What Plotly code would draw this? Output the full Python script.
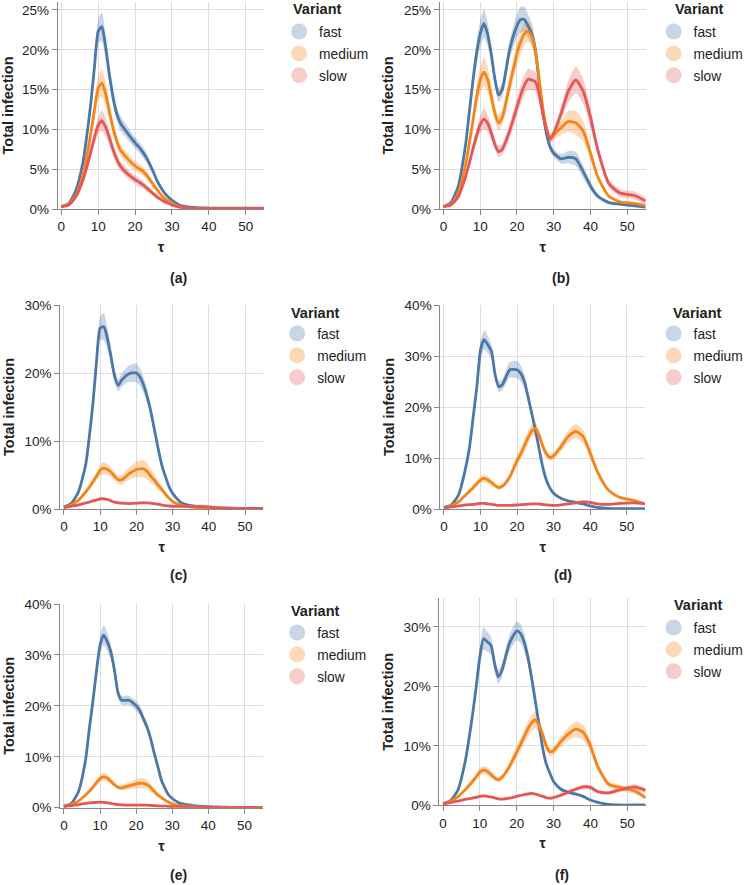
import plotly.graph_objects as go

# tau sample points shared by every series
tau = [0, 2, 4, 6, 7, 8, 9, 10, 11, 12, 13, 14, 15, 16, 18, 20, 21, 22, 23, 24, 25,
       26, 27, 28, 29, 30, 32, 34, 36, 38, 40, 42, 45, 48, 52, 55]

variants = ["fast", "medium", "slow"]
captions = ["(a)", "(b)", "(c)", "(d)", "(e)", "(f)"]
y_max = [26, 26, 30, 40, 40, 34.8]
y_step = [5, 5, 10, 10, 10, 10]
x_ticks = [0, 10, 20, 30, 40, 50]

# total infection in %, mean and half width of the band
a_fast = [0.3, 0.7, 2.4, 6.2, 9.5, 13.3, 17.9, 22.3, 22.9, 20.4, 17.0, 14.1, 12.0, 10.8, 9.5, 8.3, 7.8, 7.2, 6.5, 5.6, 4.6, 3.5, 2.7, 2.0, 1.5, 1.1, 0.5, 0.3, 0.2, 0.15, 0.12, 0.1, 0.1, 0.1, 0.1, 0.1]
a_fast_err = [0.1, 0.1, 0.2, 0.4, 0.6, 0.8, 1.1, 1.5, 1.8, 1.6, 1.3, 1.1, 0.9, 0.9, 0.8, 0.7, 0.7, 0.7, 0.6, 0.5, 0.4, 0.3, 0.3, 0.2, 0.2, 0.1, 0.1, 0.05, 0.05, 0.05, 0.05, 0.05, 0.05, 0.05, 0.05, 0.05]
a_medium = [0.3, 0.6, 1.8, 4.5, 6.8, 9.5, 12.5, 15.2, 15.8, 14.5, 12.3, 10.2, 8.6, 7.4, 6.3, 5.4, 5.1, 4.8, 4.3, 3.7, 3.0, 2.4, 1.8, 1.3, 1.0, 0.7, 0.3, 0.15, 0.1, 0.08, 0.05, 0.05, 0.05, 0.05, 0.05, 0.05]
a_medium_err = [0.1, 0.1, 0.2, 0.4, 0.6, 0.8, 1.1, 1.4, 1.7, 1.5, 1.1, 0.9, 0.8, 0.7, 0.7, 0.6, 0.6, 0.6, 0.5, 0.5, 0.4, 0.3, 0.3, 0.2, 0.2, 0.1, 0.1, 0.05, 0.05, 0.05, 0.05, 0.05, 0.05, 0.05, 0.05, 0.05]
a_slow = [0.3, 0.5, 1.6, 3.8, 5.4, 7.2, 9.0, 10.5, 11.1, 10.3, 9.0, 7.5, 6.3, 5.4, 4.4, 3.7, 3.4, 3.1, 2.7, 2.3, 1.9, 1.5, 1.2, 0.9, 0.7, 0.5, 0.25, 0.12, 0.08, 0.05, 0.05, 0.03, 0.03, 0.03, 0.03, 0.03]
a_slow_err = [0.1, 0.1, 0.2, 0.4, 0.5, 0.7, 0.9, 1.1, 1.3, 1.2, 1.0, 0.8, 0.7, 0.6, 0.6, 0.5, 0.5, 0.5, 0.4, 0.4, 0.3, 0.3, 0.2, 0.2, 0.1, 0.1, 0.05, 0.05, 0.05, 0.05, 0.05, 0.05, 0.05, 0.05, 0.05, 0.05]

b_fast = [0.3, 0.8, 2.8, 8.0, 12.0, 16.0, 19.5, 22.0, 23.3, 22.0, 19.5, 16.3, 14.3, 15.0, 20.0, 23.0, 23.8, 23.8, 23.0, 22.0, 20.0, 16.0, 12.4, 9.5, 7.8, 7.0, 6.3, 6.5, 6.3, 4.7, 2.9, 1.6, 0.8, 0.6, 0.4, 0.25]
b_fast_err = [0.1, 0.1, 0.3, 0.6, 0.9, 1.2, 1.5, 1.7, 1.8, 1.5, 1.1, 0.9, 0.9, 0.9, 1.2, 1.5, 1.6, 1.6, 1.5, 1.4, 1.2, 1.0, 0.8, 0.6, 0.5, 0.5, 0.6, 0.8, 0.9, 0.8, 0.5, 0.3, 0.2, 0.1, 0.1, 0.1]
b_medium = [0.3, 0.6, 2.0, 5.5, 8.2, 11.0, 14.0, 16.2, 17.2, 16.3, 14.2, 12.0, 10.8, 11.5, 15.5, 19.5, 21.0, 22.0, 22.3, 21.7, 20.0, 16.5, 12.8, 10.2, 8.8, 9.3, 10.2, 11.0, 10.8, 9.8, 7.0, 4.0, 1.6, 0.9, 0.7, 0.4]
b_medium_err = [0.1, 0.1, 0.3, 0.6, 0.8, 1.1, 1.4, 1.6, 1.8, 1.6, 1.2, 1.0, 0.9, 1.0, 1.2, 1.4, 1.4, 1.4, 1.3, 1.2, 1.1, 1.0, 0.8, 0.6, 0.5, 0.6, 0.9, 1.3, 1.5, 1.3, 0.8, 0.4, 0.2, 0.1, 0.1, 0.1]
b_slow = [0.3, 0.5, 1.5, 4.0, 5.7, 7.5, 9.2, 10.6, 11.3, 10.8, 9.6, 8.1, 7.2, 7.5, 9.8, 12.8, 14.3, 15.5, 16.3, 16.2, 16.0, 14.5, 12.0, 10.0, 8.8, 9.5, 12.0, 14.8, 16.2, 14.8, 11.5, 7.4, 3.2, 2.0, 1.7, 1.0]
b_slow_err = [0.1, 0.1, 0.2, 0.4, 0.5, 0.7, 0.9, 1.1, 1.3, 1.1, 0.9, 0.7, 0.7, 0.7, 0.9, 1.1, 1.2, 1.3, 1.3, 1.3, 1.2, 1.0, 0.8, 0.6, 0.5, 0.6, 0.9, 1.4, 1.7, 1.6, 1.2, 0.8, 0.5, 0.5, 0.5, 0.5]

c_fast = [0.3, 0.8, 2.5, 6.5, 10.6, 15.5, 21.7, 26.6, 26.8, 25.1, 22.4, 19.5, 18.2, 19.0, 19.9, 20.0, 19.4, 18.2, 16.5, 14.3, 11.6, 8.9, 6.5, 4.8, 3.3, 2.3, 1.1, 0.6, 0.4, 0.3, 0.2, 0.15, 0.1, 0.1, 0.1, 0.1]
c_fast_err = [0.1, 0.1, 0.2, 0.4, 0.6, 0.9, 1.3, 1.8, 2.0, 1.6, 1.2, 1.0, 0.9, 1.0, 1.2, 1.4, 1.3, 1.2, 1.0, 0.9, 0.7, 0.6, 0.4, 0.3, 0.2, 0.2, 0.1, 0.1, 0.05, 0.05, 0.05, 0.05, 0.05, 0.05, 0.05, 0.05]
c_medium = [0.2, 0.6, 1.3, 2.5, 3.2, 4.0, 4.8, 5.7, 6.0, 5.8, 5.4, 4.8, 4.3, 4.3, 5.2, 5.8, 5.9, 5.9, 5.5, 4.8, 4.2, 3.5, 2.9, 2.2, 1.6, 1.1, 0.6, 0.35, 0.25, 0.2, 0.15, 0.1, 0.1, 0.05, 0.05, 0.05]
c_medium_err = [0.05, 0.1, 0.2, 0.3, 0.4, 0.5, 0.6, 0.8, 0.9, 0.8, 0.7, 0.6, 0.6, 0.7, 0.9, 1.1, 1.2, 1.3, 1.2, 1.0, 0.8, 0.7, 0.5, 0.4, 0.3, 0.2, 0.1, 0.1, 0.1, 0.1, 0.05, 0.05, 0.05, 0.05, 0.05, 0.05]
c_slow = [0.2, 0.4, 0.6, 0.9, 1.0, 1.2, 1.3, 1.5, 1.5, 1.4, 1.2, 1.0, 0.9, 0.85, 0.8, 0.85, 0.9, 0.9, 0.9, 0.85, 0.8, 0.7, 0.6, 0.5, 0.45, 0.4, 0.4, 0.4, 0.4, 0.35, 0.3, 0.2, 0.15, 0.1, 0.1, 0.1]
c_slow_err = [0.05, 0.1, 0.1, 0.15, 0.15, 0.15, 0.15, 0.2, 0.2, 0.2, 0.15, 0.15, 0.15, 0.15, 0.15, 0.15, 0.15, 0.15, 0.15, 0.15, 0.15, 0.15, 0.1, 0.1, 0.1, 0.1, 0.15, 0.25, 0.3, 0.3, 0.25, 0.15, 0.1, 0.05, 0.05, 0.05]

d_fast = [0.3, 0.8, 2.8, 8.3, 12.2, 18.1, 24.0, 31.2, 33.2, 32.2, 30.9, 26.3, 24.0, 24.4, 27.3, 27.3, 26.6, 25.0, 22.0, 18.8, 15.5, 11.9, 8.3, 5.7, 4.1, 3.1, 2.1, 1.6, 1.3, 1.0, 0.6, 0.3, 0.1, 0.05, 0.05, 0.05]
d_fast_err = [0.1, 0.1, 0.3, 0.6, 0.8, 1.0, 1.3, 1.7, 1.9, 1.7, 1.4, 1.2, 1.1, 1.1, 1.5, 1.7, 1.6, 1.4, 1.2, 1.0, 0.8, 0.6, 0.4, 0.3, 0.2, 0.2, 0.1, 0.1, 0.1, 0.1, 0.05, 0.05, 0.05, 0.05, 0.05, 0.05]
d_medium = [0.2, 0.7, 1.4, 2.8, 3.5, 4.2, 5.0, 5.7, 6.0, 5.7, 5.2, 4.6, 4.2, 4.5, 6.3, 9.5, 10.8, 12.4, 14.0, 15.3, 15.8, 14.5, 12.4, 10.8, 10.1, 10.4, 12.2, 14.2, 15.2, 14.3, 11.0, 7.3, 3.7, 2.3, 1.7, 1.0]
d_medium_err = [0.05, 0.1, 0.2, 0.3, 0.4, 0.5, 0.6, 0.7, 0.8, 0.7, 0.6, 0.5, 0.5, 0.5, 0.7, 1.0, 1.1, 1.2, 1.3, 1.3, 1.3, 1.1, 0.9, 0.7, 0.6, 0.7, 0.9, 1.2, 1.4, 1.3, 1.0, 0.6, 0.4, 0.3, 0.2, 0.2]
d_slow = [0.2, 0.4, 0.6, 0.8, 0.85, 0.9, 1.0, 1.1, 1.1, 1.0, 0.9, 0.8, 0.7, 0.7, 0.7, 0.8, 0.85, 0.9, 0.95, 1.0, 1.0, 1.0, 0.9, 0.8, 0.75, 0.7, 0.8, 1.0, 1.2, 1.4, 1.3, 1.0, 0.9, 1.1, 1.2, 1.0]
d_slow_err = [0.05, 0.1, 0.1, 0.15, 0.15, 0.15, 0.15, 0.15, 0.15, 0.15, 0.15, 0.1, 0.1, 0.1, 0.1, 0.1, 0.1, 0.15, 0.15, 0.15, 0.15, 0.15, 0.1, 0.1, 0.1, 0.1, 0.15, 0.2, 0.25, 0.3, 0.25, 0.2, 0.15, 0.15, 0.2, 0.2]

e_fast = [0.3, 0.8, 3.1, 9.4, 15.3, 20.8, 26.7, 31.9, 33.9, 32.6, 30.6, 27.0, 22.5, 21.1, 21.1, 20.0, 19.1, 17.5, 15.9, 13.6, 10.7, 8.1, 5.4, 3.8, 2.5, 1.8, 0.9, 0.6, 0.4, 0.3, 0.2, 0.15, 0.1, 0.05, 0.05, 0.05]
e_fast_err = [0.1, 0.1, 0.3, 0.7, 1.0, 1.2, 1.5, 1.8, 2.0, 1.8, 1.4, 1.2, 1.0, 0.9, 0.9, 1.0, 1.0, 0.9, 0.8, 0.7, 0.6, 0.5, 0.4, 0.3, 0.2, 0.1, 0.1, 0.05, 0.05, 0.05, 0.05, 0.05, 0.05, 0.05, 0.05, 0.05]
e_medium = [0.2, 0.6, 1.3, 2.5, 3.2, 4.0, 4.9, 5.7, 6.1, 5.8, 5.2, 4.5, 4.0, 3.9, 4.3, 4.7, 4.8, 4.8, 4.5, 4.0, 3.2, 2.5, 2.0, 1.5, 1.1, 0.75, 0.4, 0.25, 0.2, 0.15, 0.1, 0.05, 0.05, 0.03, 0.03, 0.03]
e_medium_err = [0.05, 0.1, 0.2, 0.3, 0.4, 0.5, 0.6, 0.7, 0.8, 0.7, 0.6, 0.5, 0.4, 0.5, 0.7, 0.9, 1.0, 1.0, 0.9, 0.8, 0.6, 0.5, 0.4, 0.3, 0.2, 0.15, 0.1, 0.05, 0.05, 0.05, 0.05, 0.05, 0.05, 0.05, 0.05, 0.05]
e_slow = [0.2, 0.4, 0.6, 0.85, 0.95, 1.0, 1.05, 1.1, 1.05, 0.95, 0.85, 0.7, 0.6, 0.55, 0.5, 0.5, 0.5, 0.5, 0.5, 0.45, 0.4, 0.35, 0.3, 0.3, 0.25, 0.2, 0.15, 0.1, 0.08, 0.05, 0.05, 0.03, 0.03, 0.03, 0.03, 0.03]
e_slow_err = [0.05, 0.05, 0.1, 0.1, 0.1, 0.15, 0.15, 0.15, 0.15, 0.15, 0.1, 0.1, 0.1, 0.1, 0.1, 0.1, 0.1, 0.1, 0.1, 0.1, 0.1, 0.1, 0.05, 0.05, 0.05, 0.05, 0.05, 0.05, 0.05, 0.05, 0.05, 0.05, 0.05, 0.05, 0.05, 0.05]

f_fast = [0.3, 0.8, 2.5, 7.3, 11.0, 15.2, 19.9, 25.0, 28.0, 27.5, 26.9, 23.8, 21.6, 22.7, 27.2, 29.3, 28.9, 27.5, 25.0, 21.6, 17.7, 13.8, 9.8, 7.0, 5.4, 4.0, 2.7, 2.2, 1.9, 1.5, 0.9, 0.5, 0.15, 0.05, 0.05, 0.05]
f_fast_err = [0.1, 0.1, 0.3, 0.6, 0.8, 1.0, 1.3, 1.6, 1.9, 1.7, 1.5, 1.3, 1.2, 1.2, 1.4, 1.6, 1.6, 1.5, 1.3, 1.1, 0.9, 0.7, 0.5, 0.4, 0.3, 0.3, 0.3, 0.3, 0.3, 0.2, 0.1, 0.1, 0.05, 0.05, 0.05, 0.05]
f_medium = [0.2, 0.7, 1.4, 2.6, 3.3, 4.0, 4.8, 5.6, 5.9, 5.7, 5.2, 4.6, 4.3, 4.7, 6.5, 9.0, 10.2, 11.5, 12.8, 13.8, 14.4, 13.5, 12.0, 10.0, 9.0, 9.2, 10.7, 12.0, 12.8, 12.3, 10.0, 6.5, 3.5, 3.0, 2.4, 1.3]
f_medium_err = [0.05, 0.1, 0.2, 0.3, 0.4, 0.5, 0.6, 0.7, 0.7, 0.7, 0.6, 0.5, 0.5, 0.5, 0.7, 1.0, 1.1, 1.2, 1.3, 1.4, 1.4, 1.3, 1.1, 0.8, 0.7, 0.7, 0.9, 1.1, 1.3, 1.3, 1.0, 0.7, 0.5, 0.5, 0.5, 0.4]
f_slow = [0.2, 0.45, 0.7, 1.0, 1.1, 1.2, 1.35, 1.5, 1.6, 1.5, 1.4, 1.25, 1.1, 1.05, 1.2, 1.5, 1.65, 1.8, 1.9, 2.0, 1.9, 1.7, 1.5, 1.3, 1.2, 1.3, 1.7, 2.2, 2.7, 3.1, 3.0, 2.3, 2.1, 2.6, 3.1, 2.5]
f_slow_err = [0.05, 0.1, 0.1, 0.15, 0.15, 0.2, 0.2, 0.2, 0.2, 0.2, 0.2, 0.15, 0.15, 0.15, 0.15, 0.2, 0.2, 0.2, 0.25, 0.25, 0.25, 0.2, 0.2, 0.15, 0.15, 0.2, 0.25, 0.3, 0.35, 0.4, 0.4, 0.3, 0.3, 0.4, 0.45, 0.45]

panels = [
    [(a_fast, a_fast_err), (a_medium, a_medium_err), (a_slow, a_slow_err)],
    [(b_fast, b_fast_err), (b_medium, b_medium_err), (b_slow, b_slow_err)],
    [(c_fast, c_fast_err), (c_medium, c_medium_err), (c_slow, c_slow_err)],
    [(d_fast, d_fast_err), (d_medium, d_medium_err), (d_slow, d_slow_err)],
    [(e_fast, e_fast_err), (e_medium, e_medium_err), (e_slow, e_slow_err)],
    [(f_fast, f_fast_err), (f_medium, f_medium_err), (f_slow, f_slow_err)],
]
for p in panels:
    for m, e in p:
        assert len(m) == len(tau) and len(e) == len(tau)

colors = ["#4c78a8", "#f58518", "#e45756"]
bands = ["rgba(76,120,168,0.3)", "rgba(245,133,24,0.3)", "rgba(228,87,86,0.3)"]

W, H = 749, 885
FONT = "Liberation Sans, Arial, sans-serif"
# plot boxes in pixels: left, right, top, bottom
boxes = [(58, 266, 2, 209), (442.7, 650, 2, 209),
         (60.7, 265, 305, 509), (443.3, 649.3, 305, 509),
         (60.7, 264.3, 604, 807.7), (442.3, 650, 598.3, 805.3)]
# legend: symbol centre x, first row centre y ; title position
legend_sym = [(301, 31), (678, 31), (299, 333), (678, 333), (299, 632), (678, 627)]
legend_title = [(293, 9), (678, 9), (291, 313), (676, 313), (291, 611), (677, 605)]
caption_pos = [(180, 278), (565, 278), (180, 575), (567, 575), (180, 875), (566, 875)]

fig = go.Figure()
layout = dict(width=W, height=H, margin=dict(l=0, r=0, t=0, b=0),
              paper_bgcolor="white", plot_bgcolor="white",
              font=dict(family=FONT, size=13, color="#222"), annotations=[])

for i, series in enumerate(panels):
    n = "" if i == 0 else str(i + 1)
    xa, ya, lg = "x" + n, "y" + n, "legend" + n
    for k, (m, e) in enumerate(series):
        upper = [v + d for v, d in zip(m, e)]
        lower = [max(v - d, 0) for v, d in zip(m, e)]
        fig.add_trace(go.Scatter(x=tau, y=upper, xaxis=xa, yaxis=ya, mode="lines",
                                 line=dict(width=0, shape="spline", smoothing=0.6),
                                 showlegend=False, hoverinfo="skip"))
        fig.add_trace(go.Scatter(x=tau, y=lower, xaxis=xa, yaxis=ya, mode="lines",
                                 line=dict(width=0, shape="spline", smoothing=0.6),
                                 fill="tonexty", fillcolor=bands[k],
                                 showlegend=False, hoverinfo="skip"))
    for k, (m, e) in enumerate(series):
        fig.add_trace(go.Scatter(x=tau, y=m, xaxis=xa, yaxis=ya, mode="lines",
                                 line=dict(color=colors[k], width=2.8, shape="spline", smoothing=0.6),
                                 showlegend=False))
    for k, name in enumerate(variants):
        fig.add_trace(go.Scatter(x=[None], y=[None], xaxis=xa, yaxis=ya, mode="markers",
                                 marker=dict(size=16, color=bands[k]), name=name,
                                 legend=lg, legendgroup=name, showlegend=True))

    l, r, t, b = boxes[i]
    axis_style = dict(showgrid=True, gridcolor="#ddd", gridwidth=1, showline=True,
                      linecolor="#888", linewidth=1, ticks="outside", ticklen=5,
                      tickcolor="#888", zeroline=False, automargin=False,
                      tickfont=dict(family=FONT, size=13.5, color="#222"))
    layout["xaxis" + n] = dict(axis_style, domain=[l / W, r / W], anchor=ya,
                               range=[-1, 55], tickvals=x_ticks,
                               title=dict(text="<b>τ</b>", standoff=8,
                                          font=dict(family=FONT, size=14.5, color="#222")))
    layout["yaxis" + n] = dict(axis_style, domain=[1 - b / H, 1 - t / H], anchor=xa,
                               range=[0, y_max[i]], dtick=y_step[i], tick0=0,
                               ticksuffix="%",
                               title=dict(text="<b>Total infection</b>", standoff=6,
                                          font=dict(family=FONT, size=14.5, color="#222")))
    sx, sy = legend_sym[i]
    layout[lg] = dict(x=(sx - 20) / W, y=1 - (sy - 15) / H, xanchor="left", yanchor="top",
                      bgcolor="rgba(0,0,0,0)", itemsizing="trace", traceorder="grouped",
                      tracegroupgap=1,
                      font=dict(family=FONT, size=13.8, color="#222"))
    tx, ty = legend_title[i]
    layout["annotations"].append(dict(text="<b>Variant</b>", x=tx / W, y=1 - ty / H,
                                      xref="paper", yref="paper", showarrow=False,
                                      xanchor="left", yanchor="middle",
                                      font=dict(family=FONT, size=14.5, color="#222")))
    cx, cy = caption_pos[i]
    layout["annotations"].append(dict(text="<b>%s</b>" % captions[i], x=cx / W, y=1 - cy / H,
                                      xref="paper", yref="paper", showarrow=False,
                                      xanchor="center", yanchor="middle",
                                      font=dict(family=FONT, size=14, color="#222")))

fig.update_layout(**layout)
# the page body has a default margin; drop it so the figure fills the window
fig.write_html("out.html", config={"displayModeBar": False},
               post_script="document.body.style.margin='0';")
